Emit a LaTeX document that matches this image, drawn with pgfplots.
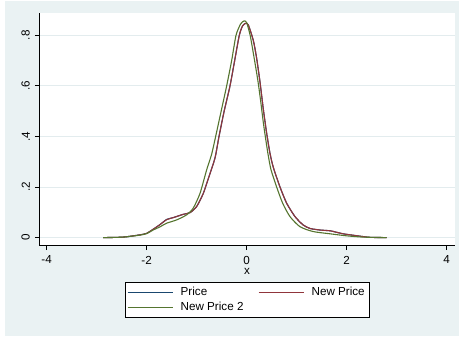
\documentclass[border=0pt]{standalone}
\usepackage{pgfplots}
\pgfplotsset{compat=1.18}
\usepackage{fontspec}
\setmainfont{Liberation Sans}
\definecolor{bgc}{HTML}{EAF2F3}
\definecolor{gridc}{HTML}{E3ECEE}
\definecolor{sblue}{HTML}{1A476F}
\definecolor{sred}{HTML}{90353B}
\definecolor{sgreen}{HTML}{55752F}
\newcommand{\fs}{\fontsize{11.7}{14}\selectfont}
\pgfplotstableread{
x y
-2.87 0
-2.47 0.002
-2.13 0.011
-2.0 0.017
-1.87 0.033
-1.73 0.052
-1.6 0.072
-1.47 0.079
-1.27 0.092
-1.13 0.099
-1.0 0.123
-0.867 0.175
-0.747 0.245
-0.633 0.315
-0.553 0.4
-0.45 0.5
-0.333 0.6
-0.24 0.7
-0.147 0.8
-0.08 0.838
-0.02 0.847
0.033 0.841
0.133 0.78
0.2 0.709
0.267 0.615
0.333 0.508
0.4 0.413
0.467 0.333
0.533 0.278
0.667 0.2
0.8 0.136
0.967 0.083
1.13 0.05
1.27 0.036
1.47 0.030
1.67 0.027
1.8 0.021
1.93 0.015
2.07 0.011
2.33 0.004
2.47 0.001
2.8 0
}\pricetab
\pgfplotstableread{
x y
-2.87 0
-2.47 0.002
-2.13 0.011
-2.0 0.017
-1.87 0.033
-1.73 0.052
-1.6 0.071
-1.47 0.079
-1.27 0.092
-1.13 0.099
-1.0 0.123
-0.867 0.175
-0.747 0.245
-0.633 0.315
-0.553 0.4
-0.45 0.5
-0.333 0.6
-0.24 0.7
-0.147 0.8
-0.08 0.838
-0.02 0.847
0.033 0.841
0.133 0.78
0.2 0.709
0.267 0.615
0.333 0.508
0.4 0.413
0.467 0.333
0.533 0.278
0.667 0.2
0.8 0.136
0.967 0.083
1.13 0.05
1.27 0.036
1.47 0.030
1.67 0.027
1.8 0.021
1.93 0.015
2.07 0.011
2.33 0.004
2.47 0.001
2.8 0
}\newpricetab
\pgfplotstableread{
x y
-2.87 0
-2.47 0.002
-2.13 0.010
-2.0 0.016
-1.87 0.030
-1.73 0.043
-1.6 0.057
-1.4 0.070
-1.2 0.090
-1.07 0.116
-0.933 0.175
-0.8 0.268
-0.7 0.33
-0.62 0.4
-0.51 0.5
-0.40 0.6
-0.30 0.7
-0.213 0.8
-0.12 0.845
-0.05 0.857
0.0 0.85
0.07 0.80
0.15 0.71
0.225 0.62
0.28 0.54
0.33 0.46
0.373 0.4
0.425 0.333
0.485 0.27
0.6 0.2
0.72 0.136
0.867 0.083
1.067 0.043
1.33 0.024
1.67 0.015
2.0 0.007
2.33 0.002
2.8 0
}\newpricetwotab
\begin{document}
\begin{tikzpicture}[x=1bp,y=1bp]
\useasboundingbox (0,0) rectangle (460,337);
\fill[white] (0,0) rectangle (460,337);
\fill[bgc] (5,1) rectangle (459,336);
\begin{axis}[
  at={(39.3bp,91.3bp)}, anchor=south west,
  width=415.7bp, height=232.4bp, scale only axis,
  xmin=-4.147, xmax=4.167, ymin=-0.032, ymax=0.887,
  axis background/.style={fill=white},
  axis lines=left, axis line style={-, black, line width=0.8bp},
  xtick={-4,-2,0,2,4}, xticklabels={-4,-2,0,2,4},
  ytick={0,0.2,0.4,0.6,0.8}, yticklabels={0,.2,.4,.6,.8},
  tick align=outside, major tick length=4.5bp,
  tick style={black, line width=0.8bp},
  ymajorgrids, grid style={gridc, line width=0.8bp},
  ticklabel style={font=\fs},
  xticklabel style={anchor=north, inner sep=0pt, yshift=-5.5bp},
  yticklabel style={xshift=-4.8bp, rotate=90, anchor=south, inner sep=0pt},
  xlabel={x},
  xlabel style={font=\fs, at={(axis description cs:0.5,-0.11)}, anchor=center, inner sep=0pt},
  legend columns=2,
  legend cell align=left,
  legend image code/.code={\draw[#1, line width=1.1bp] (0bp,0bp) -- (45bp,0bp);},
  legend style={at={(0.5,-0.156)}, anchor=north, draw=black, line width=0.8bp, fill=white,
    font=\fs, inner xsep=2bp, inner ysep=2.5bp, row sep=0.2bp,
    nodes={inner xsep=2.5bp, inner ysep=2.5bp},
    /tikz/every odd column/.append style={text height=10.5bp, text depth=1bp},
    /tikz/every even column/.append style={column sep=12bp}},
]
\addplot[sblue, line width=1.1bp, smooth, tension=0.4] table[x=x,y=y] {\pricetab};
\addlegendentry{\hspace{5bp}Price}
\addplot[sred, line width=1.1bp, smooth, tension=0.4] table[x=x,y=y] {\newpricetab};
\addlegendentry{\hspace{5bp}New Price}
\addplot[sgreen, line width=1.1bp, smooth, tension=0.4] table[x=x,y=y] {\newpricetwotab};
\addlegendentry{\hspace{5bp}New Price 2}
\end{axis}
\end{tikzpicture}
\end{document}
